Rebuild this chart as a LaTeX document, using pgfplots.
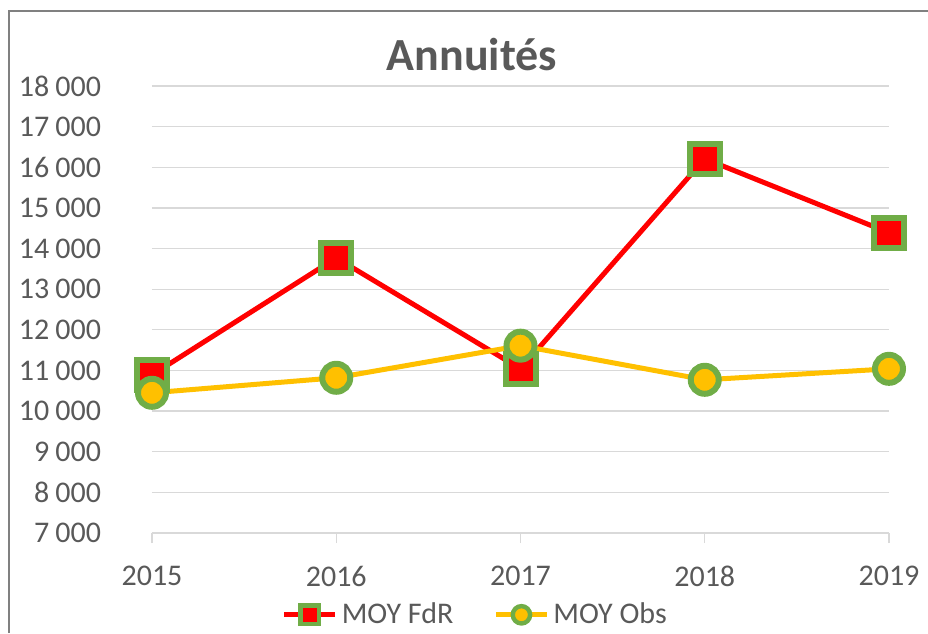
\documentclass[border=0pt]{standalone}
\usepackage{pgfplots}
\pgfplotsset{compat=1.18}
\usepackage{fontspec}
\setmainfont{Carlito}
\definecolor{txt}{HTML}{595959}
\definecolor{gridc}{HTML}{D9D9D9}
\definecolor{fdr}{HTML}{FF0000}
\definecolor{obs}{HTML}{FFC000}
\definecolor{edge}{HTML}{70AD47}
\definecolor{frame}{HTML}{808080}
\begin{document}
\begin{tikzpicture}
\useasboundingbox (0,0) rectangle (464pt,316.5pt);
\draw[frame, line width=1pt] (4.5pt,0) -- (4.5pt,311pt) -- (464pt,311pt);
\node[txt, font=\fontsize{23}{26}\selectfont\bfseries] at (236pt,289pt) {Annuités};
\begin{axis}[
  at={(76pt,50pt)}, anchor=south west,
  scale only axis, width=368.5pt, height=223.5pt,
  xmin=2015, xmax=2019, ymin=7000, ymax=18000,
  xtick={2015,2016,2017,2018,2019},
  xticklabels={2015,2016,2017,2018,2019},
  ytick distance=1000,
  scaled y ticks=false,
  axis x line*=bottom, axis y line*=left,
  x axis line style={draw=gridc, line width=0.6pt},
  y axis line style={draw=none},
  ymajorgrids, grid style={draw=gridc, line width=0.6pt},
  xtick style={draw=gridc, line width=0.6pt},
  tick align=outside, major tick length=5pt,
  ytick style={draw=none},
  /pgf/number format/assume math mode=true,
  /pgf/number format/fixed,
  /pgf/number format/1000 sep={\hspace{0.2em}},
  ticklabel style={font=\fontsize{15}{17}\selectfont, text=txt},
  yticklabel style={xshift=-17pt},
  xticklabel style={yshift=-8pt},
  clip=false,
  legend style={at={(0.44,-0.183)}, anchor=center, draw=none, fill=none,
    legend columns=2, font=\fontsize{15}{17}\selectfont, text=txt,
    /tikz/every even column/.append style={column sep=18pt},
    inner sep=0pt},
  legend image code/.code={
    \draw[mark repeat=2, mark phase=2, #1, every mark/.append style={scale=0.62, line width=2.2pt}]
      plot coordinates {(0pt,0pt) (12.75pt,0pt) (25.5pt,0pt)};},
]
\addplot[fdr, line width=2.5pt, mark=square*, mark size=7.5pt,
  mark options={fill=fdr, draw=edge, line width=3pt, rounded corners=1.5pt}]
  coordinates {(2015,10890) (2016,13770) (2017,11040) (2018,16210) (2019,14390)};
\addlegendentry{MOY FdR}
\addplot[obs, line width=2.5pt, mark=*, mark size=7pt,
  mark options={fill=obs, draw=edge, line width=3pt}]
  coordinates {(2015,10450) (2016,10820) (2017,11610) (2018,10770) (2019,11040)};
\addlegendentry{MOY Obs}
\end{axis}
\end{tikzpicture}
\end{document}
